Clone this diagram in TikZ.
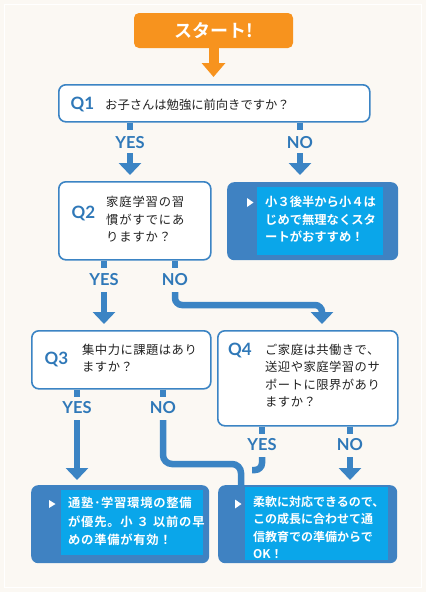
\documentclass[tikz,border=0pt]{standalone}
\usepackage{fontspec}
\newfontfamily\jp{Noto Sans CJK JP}[BoldFont={Noto Sans CJK JP Bold}]
\newfontfamily\lat{Lato}
\usetikzlibrary{arrows.meta}
\definecolor{bgc}{HTML}{FBF8F3}
\definecolor{lineb}{HTML}{3B84C4}
\definecolor{qlab}{HTML}{2F78B8}
\definecolor{darkb}{HTML}{3F82C2}
\definecolor{cyanb}{HTML}{0AA6EA}
\definecolor{orng}{HTML}{F7931E}
\definecolor{txt}{HTML}{222222}
\tikzset{
  qbox/.style={draw=lineb, line width=1.6pt, fill=white, rounded corners=7pt, anchor=north west, inner sep=0pt},
  abox/.style={fill=darkb, rounded corners=7pt, anchor=north west, inner sep=0pt},
  cbox/.style={fill=cyanb, anchor=north west, inner sep=0pt},
  qlabel/.style={font=\lat\bfseries\fontsize{17}{17}\selectfont, text=qlab, inner sep=0pt},
  yn/.style={font=\lat\bfseries\fontsize{16.5}{17}\selectfont, text=qlab, inner sep=0pt},
  qtxt/.style={font=\jp\fontsize{12.3}{17.3}\selectfont, text=txt, inner sep=0pt, anchor=base west, align=left},
  atxt/.style={font=\jp\bfseries\fontsize{12.3}{17.5}\selectfont, text=white, inner sep=0pt, anchor=base west, align=left},
  conn/.style={draw=lineb, line width=6.5pt},
  arr/.style={-{Triangle[width=22pt,length=12pt]}},
  trimark/.style={fill=white}
}
\begin{document}
\begin{tikzpicture}[x=1pt,y=-1pt]
\useasboundingbox (0,0) rectangle (426,592);
\fill[bgc] (0,0) rectangle (426,592);
\draw[white, line width=1.2pt] (4.5,4.5) rectangle (421.5,587.5);

% start
\node[fill=orng, rounded corners=5pt, minimum width=159pt, minimum height=35pt, inner sep=0pt, text=white, font=\jp\bfseries\fontsize{18}{18}\selectfont] (start) at (213.5,30.5) {スタート!};
\draw[orng, line width=10pt, -{Triangle[width=23pt,length=14pt]}] (start.south) -- (start.south |- 0,77);

% Q1
\node[qbox, minimum width=311pt, minimum height=37pt] (q1) at (58,84) {};
\node[qlabel] (q1l) at (82.5,104.5) {Q1};
\node[qtxt] (q1t) at (105,109) {お子さんは勉強に前向きですか？};
\node[yn] (y1) at (130,143) {YES};
\node[yn] (n1) at (300,143) {NO};

% Q2
\node[qbox, minimum width=152pt, minimum height=78pt] (q2) at (58,181) {};
\node[qlabel] (q2l) at (83.5,213.5) {Q2};
\node[qtxt, text width=120pt, font=\jp\fontsize{12.3}{17.5}\addfontfeature{LetterSpace=7}\selectfont] (q2t) at (106,206.5) {家庭学習の習\\慣がすでにあ\\りますか？};

% A1
\node[abox, minimum width=171pt, minimum height=78pt] (a1) at (227,182) {};
\node[cbox, minimum width=126pt, minimum height=68pt] (a1c) at (257,187) {};
\fill[trimark] (247,198) -- (253.5,202.5) -- (247,207) -- cycle;
\node[atxt, text width=130pt] (a1t) at (265,206.5) {小３後半から小４は\\じめで無理なくスタ\\ートがおすすめ！};

\node[yn] (y2) at (104,280) {YES};
\node[yn] (n2) at (175,280) {NO};

% Q3
\node[qbox, minimum width=179pt, minimum height=58pt] (q3) at (31,330) {};
\node[qlabel] (q3l) at (56.5,359) {Q3};
\node[qtxt, text width=130pt, font=\jp\fontsize{12.3}{17.3}\addfontfeature{LetterSpace=4}\selectfont] (q3t) at (82,354.5) {集中力に課題はあり\\ますか？};

% Q4
\node[qbox, minimum width=180pt, minimum height=95pt] (q4) at (217,330) {};
\node[qlabel] (q4l) at (240,350) {Q4};
\node[qtxt, text width=130pt, font=\jp\fontsize{12.3}{17.3}\addfontfeature{LetterSpace=4}\selectfont] (q4t) at (265,354.5) {ご家庭は共働きで、\\送迎や家庭学習のサ\\ポートに限界があり\\ますか？};

\node[yn] (y3) at (77,408) {YES};
\node[yn] (n3) at (163,408) {NO};
\node[yn] (y4) at (262,445) {YES};
\node[yn] (n4) at (350,445) {NO};

% A3, A4
\node[abox, minimum width=178pt, minimum height=78pt] (a3) at (31,485) {};
\node[cbox, minimum width=142pt, minimum height=65pt] (a3c) at (61,490) {};
\fill[trimark] (49,500) -- (55.5,504) -- (49,508) -- cycle;
\node[atxt, text width=140pt, font=\jp\bfseries\fontsize{12.3}{18.5}\addfontfeature{LetterSpace=6}\selectfont] (a3t) at (68,507.5) {通塾･学習環境の整備\\が優先。小 ３ 以前の早\\めの準備が有効！};

\node[abox, minimum width=179pt, minimum height=78pt] (a4) at (218,485) {};
\node[cbox, minimum width=143pt, minimum height=73pt] (a4c) at (245,487) {};
\fill[trimark] (235,499.5) -- (241.5,504) -- (235,508.5) -- cycle;
\node[atxt, text width=140pt, font=\jp\bfseries\fontsize{12}{17.4}\selectfont] (a4t) at (253,506.5) {柔軟に対応できるので、\\この成長に合わせて通\\信教育での準備からで\\OK！};

% connectors
\coordinate (n2k) at (322,305);
\coordinate (n3k) at (241,464);
\coordinate (y4e) at (252,470);

\draw[conn] (y1 |- q1.south) -- ++(0,7);
\draw[conn] (n1 |- q1.south) -- ++(0,7);
\draw[conn, arr] ([yshift=-10pt]y1.center) -- ([yshift=6pt]y1.center |- q2.north);
\draw[conn, arr] ([yshift=-10pt]n1.center) -- ([yshift=7pt]n1.center |- a1.north);

\draw[conn] (y2 |- q2.south) -- ++(0,7);
\draw[conn] (n2 |- q2.south) -- ++(0,7);
\draw[conn, arr] ([yshift=-12pt]y2.center) -- ([yshift=6pt]y2.center |- q3.north);
\draw[conn, arr, rounded corners=7pt] ([yshift=-12pt]n2.center) |- (n2k) -- ([yshift=6pt]n2k |- q4.north);

\draw[conn] (y3 |- q3.south) -- ++(0,7);
\draw[conn] (n3 |- q3.south) -- ++(0,7);
\draw[conn, arr] ([yshift=-12pt]y3.center) -- ([yshift=5pt]y3.center |- a3.north);
\draw[conn, rounded corners=9pt] ([yshift=-12pt]n3.center) |- (n3k) -- ([yshift=-2pt]n3k |- a4.north);

\draw[conn] (y4 |- q4.south) -- ++(0,7);
\draw[conn] (n4 |- q4.south) -- ++(0,7);
\draw[conn, rounded corners=7pt] ([yshift=-12pt]y4.center) |- (y4e);
\draw[conn, arr] ([yshift=-12pt]n4.center) -- ([yshift=5pt]n4.center |- a4.north);
\end{tikzpicture}
\end{document}
